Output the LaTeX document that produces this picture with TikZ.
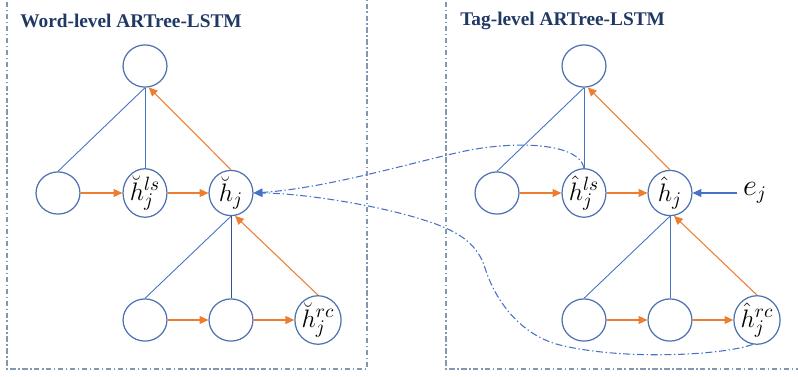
\documentclass[tikz,border=0pt]{standalone}
\usepackage{fontspec}
\setmainfont{Liberation Serif}
\usetikzlibrary{shapes.geometric,arrows.meta}

\definecolor{nodeblue}{HTML}{4F71B0}
\definecolor{linkblue}{HTML}{4472C4}
\definecolor{tiedark}{HTML}{2F5597}
\definecolor{arrorange}{HTML}{ED7D31}
\definecolor{framegray}{HTML}{8497B0}
\definecolor{titlenavy}{HTML}{203864}

\tikzset{
  unit/.style={ellipse, draw=nodeblue, line width=0.7pt, minimum width=25pt, minimum height=24pt, inner sep=0pt, font=\fontsize{15}{15}\selectfont},
  flow/.style={draw=arrorange, line width=0.6pt, -{Triangle[length=5pt,width=4.5pt]}},
  tie/.style={draw=linkblue, line width=0.5pt},
  jump/.style={draw=linkblue, line width=0.6pt, dash pattern=on 4pt off 1.5pt on 0.8pt off 1.5pt, -{Triangle[length=5pt,width=4.5pt]}},
  frame/.style={draw=framegray, line width=0.6pt, dash pattern=on 3pt off 1.5pt on 0.8pt off 1.5pt},
  caption/.style={anchor=west, text=titlenavy, inner sep=0pt, font=\bfseries\fontsize{11}{11}\selectfont},
}

\begin{document}
\begin{tikzpicture}[x=0.02cm, y=-0.02cm]
        \useasboundingbox (0,0) rectangle (798,376);
        \clip (0,0) rectangle (798,376);

        % Frames
        \draw[frame] (7,-10) rectangle (367,369);
        \draw[frame] (446,-10) rectangle (810,369);
        \node[caption] (wtitle) at (20,21) {Word-level ARTree-LSTM};
        \node[caption] (ttitle) at (460,21) {Tag-level ARTree-LSTM};

        % Word-level tree
        \node[unit] (ltop) at (145,66) {};
        \node[unit] (lleft) at (58,193) {};
        \node[unit] (lls) at (145,193) {$\breve{h}_j^{ls}$};
        \node[unit] (lhj) at (231,193) {$\breve{h}_j$};
        \node[unit] (lbl) at (145,320) {};
        \node[unit] (lbm) at (231,320) {};
        \node[unit] (lrc) at (318,320) {$\breve{h}_j^{rc}$};

        \draw[tie] (ltop.south) -- (lleft.north);
        \draw[tie] (ltop.south) -- (lls.north);
        \draw[flow] (lhj.north) -- (ltop.-80);
        \draw[flow] (lleft.east) -- (lls.west);
        \draw[flow] (lls.east) -- (lhj.west);
        \draw[tie] (lhj.south) -- (lbl.north);
        \draw[tie, draw=tiedark] (lhj.south) -- (lbm.north);
        \draw[flow] (lrc.north) -- (lhj.-80);
        \draw[flow] (lbl.east) -- (lbm.west);
        \draw[flow] (lbm.east) -- (lrc.west);

        % Tag-level tree
        \node[unit] (rtop) at (584,66) {};
        \node[unit] (rleft) at (497,193) {};
        \node[unit] (rls) at (584,193) {$\hat{h}_j^{ls}$};
        \node[unit] (rhj) at (670,193) {$\hat{h}_j$};
        \node[unit] (rbl) at (584,320) {};
        \node[unit] (rbm) at (670,320) {};
        \node[unit] (rrc) at (757,320) {$\hat{h}_j^{rc}$};
        \node[font=\fontsize{16}{16}\selectfont] (ej) at (755,193) {$e_j$};

        \draw[tie] (rtop.south) -- (rleft.north);
        \draw[tie] (rtop.south) -- (rls.north);
        \draw[flow] (rhj.north) -- (rtop.-80);
        \draw[flow] (rleft.east) -- (rls.west);
        \draw[flow] (rls.east) -- (rhj.west);
        \draw[tie] (rhj.south) -- (rbl.north);
        \draw[tie] (rhj.south) -- (rbm.north);
        \draw[flow] (rrc.north) -- (rhj.-80);
        \draw[flow] (rbl.east) -- (rbm.west);
        \draw[flow] (rbm.east) -- (rrc.west);
        \draw[tie, line width=0.6pt, -{Triangle[length=5pt,width=4.5pt]}] (ej.west) -- (rhj.east);

        % Links between the two levels
        \draw[jump] (rls.north) .. controls (580,145) and (525,140) .. (470,150)
                .. controls (420,160) and (330,188) .. (lhj.east);
        \draw[jump] (rrc.-100) .. controls (720,356) and (620,360) .. (560,345)
                .. controls (520,335) and (495,300) .. (485,268)
                .. controls (478,245) and (460,232) .. (430,222)
                .. controls (380,205) and (300,193) .. (lhj.east);
    \end{tikzpicture}
\end{document}
